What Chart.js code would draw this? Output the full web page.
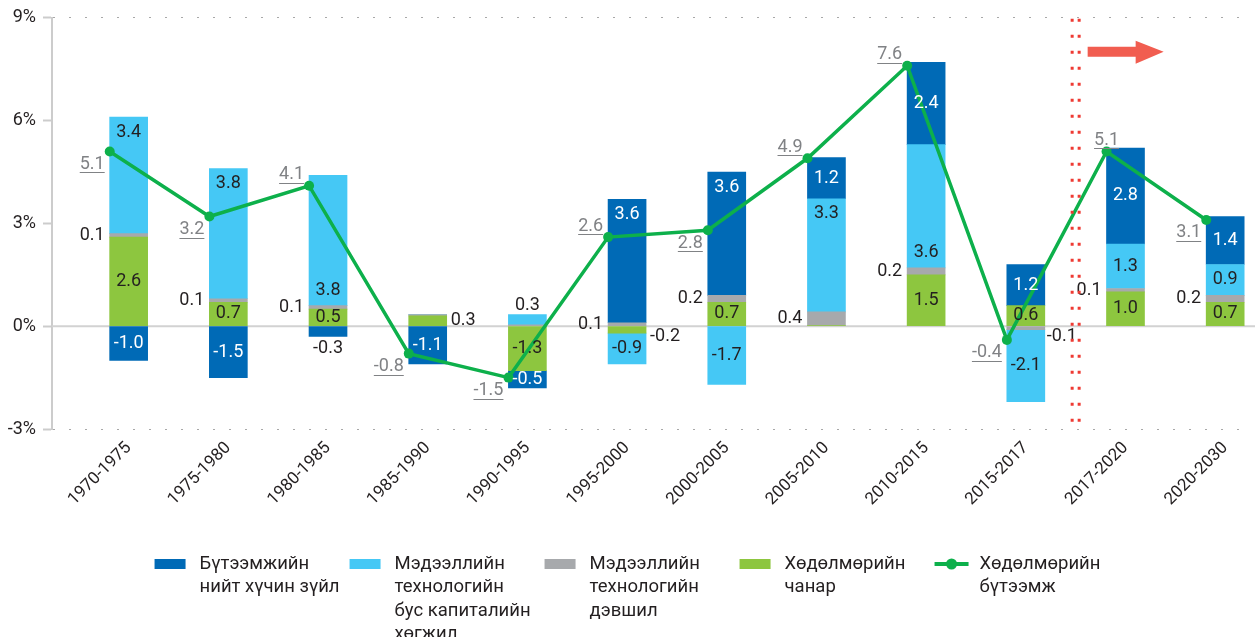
<!DOCTYPE html>
<html><head><meta charset="utf-8">
<script src="https://cdn.jsdelivr.net/npm/chart.js@4.4.1/dist/chart.umd.min.js"></script>
<style>html,body{margin:0;padding:0;background:#fff}#wrap{width:1255px;height:637px}</style>
</head><body><div id="wrap"><canvas id="c" width="1255" height="637"></canvas></div>
<script>
// ---------- data ----------
const categories = ['1970-1975','1975-1980','1980-1985','1985-1990','1990-1995','1995-2000','2000-2005','2005-2010','2010-2015','2015-2017','2017-2020','2020-2030'];
const tfp          = [-1.0,-1.5,-0.3,-1.1,-0.5, 3.6, 3.6, 1.2, 2.4, 1.2, 2.8, 1.4];
const nonItCapital = [ 3.4, 3.8, 3.8, 0.0, 0.3,-0.9,-1.7, 3.3, 3.6,-2.1, 1.3, 0.9];
const itProgress   = [ 0.1, 0.1, 0.1, 0.04,0.04,0.1, 0.2, 0.4, 0.2,-0.1, 0.1, 0.2];
const laborQuality = [ 2.6, 0.7, 0.5, 0.3,-1.3,-0.2, 0.7, 0.02,1.5, 0.6, 1.0, 0.7];
const productivity = [ 5.1, 3.2, 4.1,-0.8,-1.5, 2.6, 2.8, 4.9, 7.6,-0.4, 5.1, 3.1];
const yTicks = [-3, 0, 3, 6, 9];
const forecastStart = 10; // first forecast category (2017-2020)
const nameTfp   = ['Бүтээмжийн','нийт хүчин зүйл'];
const nameNonIt = ['Мэдээллийн','технологийн','бус капиталийн','хөгжил'];
const nameIt    = ['Мэдээллийн','технологийн','дэвшил'];
const nameLq    = ['Хөдөлмөрийн','чанар'];
const nameProd  = ['Хөдөлмөрийн','бүтээмж'];

// ---------- style ----------
const FONT = 'Roboto';
const COL = {tfp:'#006AB6', nonIt:'#45C8F5', it:'#A7A9AC', lq:'#8DC63F', line:'#0DB04B', text:'#231f20', lineLabel:'#808285', red:'#EE3A33', arrow:'#F15D50'};
const xy = arr => arr.map((v,i)=>({x:i, y:v}));
const barDs = (key, label, arr, color, textColor) => ({type:'bar', key, label, data:xy(arr), backgroundColor:color, textColor,
  stack:'s', grouped:false, order:1, barThickness:38, borderWidth:0, xAxisID:'x', yAxisID:'y'});

const datasets = [
  barDs('lq', nameLq, laborQuality, COL.lq, COL.text),
  barDs('it', nameIt, itProgress, COL.it, COL.text),
  barDs('nonIt', nameNonIt, nonItCapital, COL.nonIt, COL.text),
  barDs('tfp', nameTfp, tfp, COL.tfp, '#ffffff'),
  {type:'line', key:'prod', label:nameProd, data:xy(productivity), xAxisID:'x2', yAxisID:'y', order:0,
   borderColor:COL.line, backgroundColor:COL.line, borderWidth:3.5, pointRadius:5, pointBackgroundColor:COL.line,
   pointBorderWidth:0, tension:0, fill:false}
];
const legendOrder = ['tfp','nonIt','it','lq','prod'];

function fmt(v){ return (v<0?'-':'') + Math.abs(v).toFixed(1); }

function segIntersectsRect(p,q,r){
  for(let t=0;t<=1;t+=0.02){
    const x=p.x+(q.x-p.x)*t, y=p.y+(q.y-p.y)*t;
    if(x>=r.l&&x<=r.r&&y>=r.t&&y<=r.b) return true;
  }
  return false;
}

const annot = {
  id:'annot',
  beforeDatasetsDraw(chart){
    const {ctx, chartArea:a, scales:{y}} = chart;
    const y0 = y.getPixelForValue(0);
    ctx.save(); ctx.strokeStyle='#d2d2d2'; ctx.lineWidth=2;
    ctx.beginPath(); ctx.moveTo(a.left, y0); ctx.lineTo(chart.width, y0); ctx.stroke(); ctx.restore();
  },
  afterDatasetsDraw(chart){
    const {ctx, chartArea:a} = chart;
    const barIdx = [0,1,2,3];
    const lineMeta = chart.getDatasetMeta(4);
    const pts = lineMeta.data.map(p=>({x:p.x,y:p.y}));
    ctx.save();
    ctx.font = `18px ${FONT}`;
    ctx.textBaseline = 'middle';
    barIdx.forEach(di=>{
      const ds = chart.data.datasets[di];
      const meta = chart.getDatasetMeta(di);
      meta.data.forEach((el,i)=>{
        const v = ds.data[i].y;
        if (Math.abs(v) < 0.05) return;
        const bw = el.width;
        const top = Math.min(el.y, el.base), bot = Math.max(el.y, el.base);
        const mid = (top+bot)/2;
        let x = el.x, yy = mid, align='center', color = ds.textColor;
        if (ds.key === 'it') {
          color = COL.text;
          if (v > 0) { align='right'; x = el.x - bw/2 - 5; }
          else { align='left'; x = el.x + bw/2 + 2; yy = top + 10; }
        } else if (Math.abs(v) < 0.4) {
          color = COL.text;
          let outer = true;
          for (let k=di+1;k<4;k++){ const w = chart.data.datasets[k].data[i].y; if (w!==0 && Math.sign(w)===Math.sign(v)) outer=false; }
          if (outer) { yy = v>0 ? top - 9 : bot + 12; }
          else { align='left'; x = el.x + bw/2 + 4; yy = v>0 ? mid : top + 10; }
        } else if (Math.abs(v) >= 3.0) {
          yy = v>0 ? top + 15 : bot - 15;
          const r = {l:x-16, r:x+16, t:yy-9, b:yy+9};
          let hit=false;
          for (let k=0;k<pts.length-1;k++) if (segIntersectsRect(pts[k],pts[k+1],r)) hit=true;
          if (hit) yy = v>0 ? bot - 15 : top + 15;
        }
        ctx.fillStyle = color; ctx.textAlign = align;
        ctx.fillText(fmt(v), x, yy);
      });
    });
    // divider between history and forecast
    const m9 = chart.getDatasetMeta(3).data[forecastStart-1], m10 = chart.getDatasetMeta(3).data[forecastStart];
    const dx = ((m9.x + m9.width/2) + (m10.x - m10.width/2))/2;
    ctx.strokeStyle = COL.red; ctx.lineWidth = 3; ctx.setLineDash([3,13]);
    [-3.5, 3.5].forEach(o=>{ ctx.beginPath(); ctx.moveTo(dx+o, a.top+1); ctx.lineTo(dx+o, a.bottom); ctx.stroke(); });
    ctx.setLineDash([]);
    const ay = a.top + 34, ax0 = dx + 12, ax1 = dx + 88, hx = dx + 60;
    ctx.fillStyle = COL.arrow; ctx.beginPath();
    ctx.moveTo(ax0, ay-5); ctx.lineTo(hx, ay-5); ctx.lineTo(hx, ay-11); ctx.lineTo(ax1, ay); ctx.lineTo(hx, ay+12); ctx.lineTo(hx, ay+5); ctx.lineTo(ax0, ay+5);
    ctx.closePath(); ctx.fill();
    // line labels
    ctx.fillStyle = COL.lineLabel; ctx.strokeStyle = COL.lineLabel; ctx.lineWidth = 1;
    lineMeta.data.forEach((p,i)=>{
      const v = productivity[i];
      const txt = fmt(v);
      const w = ctx.measureText(txt).width;
      const above = i>0 && (v - productivity[i-1]) > 0.5;
      let yy = above ? p.y - 11 : p.y + 13;
      let right = p.x - 5;
      if (i === forecastStart) right = p.x + w/2;
      ctx.textAlign = 'right';
      ctx.fillText(txt, right, yy);
      ctx.beginPath(); ctx.moveTo(right - w, Math.round(yy+8)+0.5); ctx.lineTo(right, Math.round(yy+8)+0.5); ctx.stroke();
    });
    ctx.restore();
  },
  afterDraw(chart){
    const {ctx} = chart;
    ctx.save();
    ctx.font = `18.5px ${FONT}`; ctx.textBaseline='middle'; ctx.textAlign='left';
    const slot = 195, boxW = 31, textOff = 45, lh = 23.5, y0 = 564;
    const items = legendOrder.map(k=>chart.data.datasets.find(d=>d.key===k));
    const lastW = textOff + Math.max(...items[items.length-1].label.map(s=>ctx.measureText(s).width));
    let x = chart.width/2 - (slot*(items.length-1) + lastW)/2;
    items.forEach(d=>{
      if (d.type==='line') {
        ctx.strokeStyle = d.borderColor; ctx.lineWidth = 4;
        ctx.beginPath(); ctx.moveTo(x, y0); ctx.lineTo(x+34, y0); ctx.stroke();
        ctx.fillStyle = d.borderColor; ctx.beginPath(); ctx.arc(x+17, y0, 5.5, 0, Math.PI*2); ctx.fill();
      } else {
        ctx.fillStyle = d.backgroundColor; ctx.fillRect(x, y0-5, boxW, 10);
      }
      ctx.fillStyle = COL.text;
      d.label.forEach((s,j)=>ctx.fillText(s, x+textOff, y0 + j*lh));
      x += slot;
    });
    ctx.restore();
  }
};

new Chart(document.getElementById('c'), {
  data:{datasets},
  options:{
    responsive:false, animation:false, devicePixelRatio:1,
    layout:{padding:{top:16,right:0,bottom:88,left:0}},
    plugins:{legend:{display:false}, tooltip:{enabled:false}},
    scales:{
      x:{type:'linear', bounds:'data', offset:false, min:-0.769, max:11.249,
         afterFit(s){s.height=120;},
         afterBuildTicks(s){ s.ticks = categories.map((c,i)=>({value:i})); },
         grid:{display:false, drawTicks:false}, border:{display:false},
         ticks:{autoSkip:false, minRotation:45, maxRotation:45, padding:9,
                color:COL.text, font:{family:FONT, size:17}, callback:(v)=>categories[v] ?? ''}},
      x2:{type:'linear', display:false, bounds:'data', offset:false, min:-0.579, max:11.439},
      y:{min:yTicks[0], max:yTicks[yTicks.length-1], stacked:true, afterFit(s){s.width=52;},
         afterBuildTicks(s){ s.ticks = yTicks.map(v=>({value:v})); },
         ticks:{callback:v=>v+'%', color:COL.text, font:{family:FONT, size:18}, padding:7},
         grid:{color:c=>(c.tick && (c.tick.value===9||c.tick.value===-3))?'#a8a8a8':'rgba(0,0,0,0)', lineWidth:1,
               drawTicks:true, tickLength:9, tickColor:'#cccccc', tickWidth:2},
         border:{display:true, color:'#cccccc', width:2, dash:[2,14]}}
    }
  },
  plugins:[annot]
});
</script></body></html>
